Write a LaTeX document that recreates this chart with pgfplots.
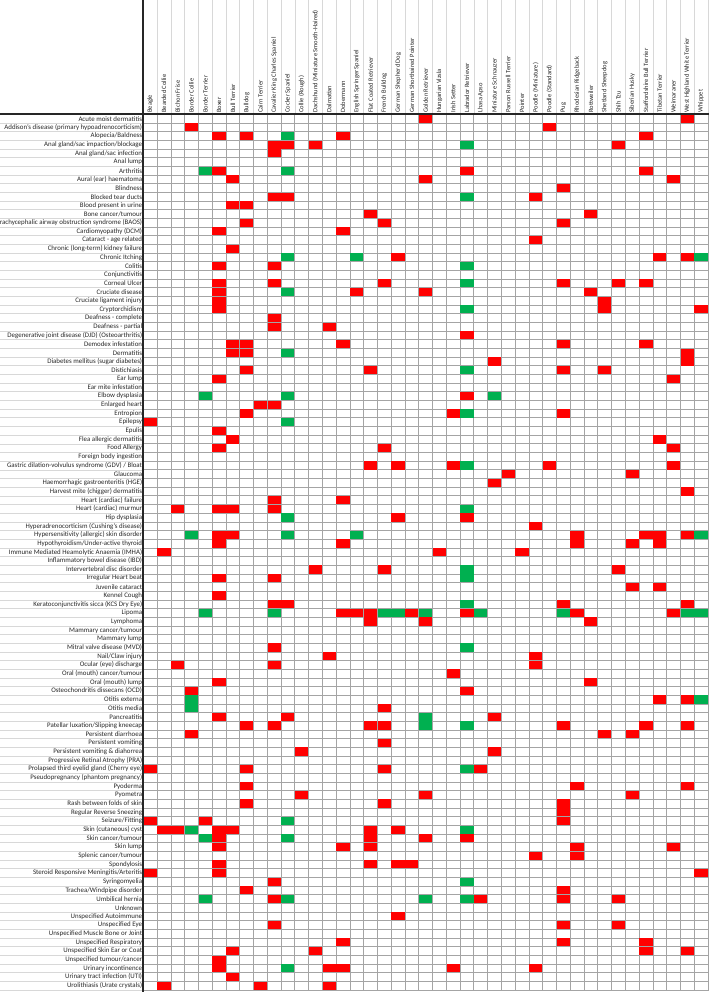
\documentclass[border=0pt]{standalone}
\usepackage{pgfplots}
\pgfplotsset{compat=1.18}
\usepackage{fontspec}
\setmainfont{Carlito}
\definecolor{cellred}{HTML}{FF0000}
\definecolor{cellgreen}{HTML}{00B050}
\definecolor{gridc}{HTML}{A4A4A4}
\definecolor{lightgridc}{HTML}{D8D8D8}
\pgfdeclareplotmark{cellmark}{\pgfpathrectanglecorners{\pgfqpoint{-6.6pt}{-4.1pt}}{\pgfqpoint{6.6pt}{4.1pt}}\pgfusepathqfill}
\begin{document}
\begin{tikzpicture}
\path[use as bounding box] (-143.3pt,-2pt) rectangle (565.7pt,990pt);
\clip (-143.3pt,-2pt) rectangle (565.7pt,990pt);
\foreach \i in {0,...,41} \draw[lightgridc,line width=0.5pt] (\i*13.7707pt,875.7pt) -- ++(0,114.3pt);
\foreach \j in {0,...,101} \draw[lightgridc,line width=0.5pt] (-143.3pt,\j*8.6703pt) -- (0pt,\j*8.6703pt);
\begin{axis}[
  scale only axis, width=564.6pt, height=875.7pt,
  at={(0,0)}, anchor=south west,
  xmin=-0.5, xmax=40.5, ymin=-0.5, ymax=100.5, y dir=reverse,
  axis line style={gridc, line width=0.6pt},
  xtick={0,...,40}, ytick={0,...,100},
  minor xtick={-0.5,0.5,...,40.5}, minor ytick={-0.5,0.5,...,100.5},
  major tick length=0pt, minor tick length=0pt,
  grid=minor, minor grid style={gridc, line width=0.6pt},
  xticklabel pos=upper,
  xticklabel style={rotate=90, anchor=west, font=\fontsize{6.5}{7}\selectfont, text=black!85, inner xsep=1.5pt, inner ysep=0pt},
  yticklabel style={anchor=east, font=\fontsize{6.9}{7}\selectfont, text=black!85, inner xsep=1pt, inner ysep=0pt},
  xticklabels={{Beagle},{Bearded Collie},{Bichon Frise},{Border Collie},{Border Terrier},{Boxer},{Bull Terrier},{Bulldog},{Cairn Terrier},{Cavalier King Charles Spaniel},{Cocker Spaniel},{Collie (Rough)},{Dachshund (Miniature Smooth-Haired)},{Dalmatian},{Dobermann},{English Springer Spaniel},{Flat Coated Retriever},{French Bulldog},{German Shepherd Dog},{German Shorthaired Pointer},{Golden Retriever},{Hungarian Vizsla},{Irish Setter},{Labrador Retriever},{Lhasa Apso},{Miniature Schnauzer},{Parson Russell Terrier},{Pointer},{Poodle (Miniature)},{Poodle (Standard)},{Pug},{Rhodesian Ridgeback},{Rottweiler},{Shetland Sheepdog},{Shih Tzu},{Siberian Husky},{Staffordshire Bull Terrier},{Tibetan Terrier},{Weimaraner},{West Highland White Terrier},{Whippet}},
  yticklabels={{Acute moist dermatitis},{Addison's disease (primary hypoadrenocorticism)},{Alopecia/Baldness},{Anal gland/sac impaction/blockage},{Anal gland/sac infection},{Anal lump},{Arthritis},{Aural (ear) haematoma},{Blindness},{Blocked tear ducts},{Blood present in urine},{Bone cancer/tumour},{Brachycephalic airway obstruction syndrome (BAOS)},{Cardiomyopathy (DCM)},{Cataract - age related},{Chronic (long-term) kidney failure},{Chronic Itching},{Colitis},{Conjunctivitis},{Corneal Ulcer},{Cruciate disease},{Cruciate ligament injury},{Cryptorchidism},{Deafness - complete},{Deafness - partial},{Degenerative joint disease (DJD) (Osteoarthritis)},{Demodex infestation},{Dermatitis},{Diabetes mellitus (sugar diabetes)},{Distichiasis},{Ear lump},{Ear mite infestation},{Elbow dysplasia},{Enlarged heart},{Entropion},{Epilepsy},{Epulis},{Flea allergic dermatitis},{Food Allergy},{Foreign body ingestion},{Gastric dilation-volvulus syndrome (GDV) / Bloat},{Glaucoma},{Haemorrhagic gastroenteritis (HGE)},{Harvest mite (chigger) dermatitis},{Heart (cardiac) failure},{Heart (cardiac) murmur},{Hip dysplasia},{Hyperadrenocorticism (Cushing's disease)},{Hypersensitivity (allergic) skin disorder},{Hypothyroidism/Under-active thyroid},{Immune Mediated Heamolytic Anaemia (IMHA)},{Inflammatory bowel disease (IBD)},{Intervertebral disc disorder},{Irregular Heart beat},{Juvenile cataract},{Kennel Cough},{Keratoconjunctivitis sicca (KCS Dry Eye)},{Lipoma},{Lymphoma},{Mammary cancer/tumour},{Mammary lump},{Mitral valve disease (MVD)},{Nail/Claw injury},{Ocular (eye) discharge},{Oral (mouth) cancer/tumour},{Oral (mouth) lump},{Osteochondritis dissecans (OCD)},{Otitis externa},{Otitis media},{Pancreatitis},{Patellar luxation/Slipping kneecap},{Persistent diarrhoea},{Persistent vomiting},{Persistent vomiting \& diahorrea},{Progressive Retinal Atrophy (PRA)},{Prolapsed third eyelid gland (Cherry eye)},{Pseudopregnancy (phantom pregnancy)},{Pyoderma},{Pyometra},{Rash between folds of skin},{Regular Reverse Sneezing},{Seizure/Fitting},{Skin (cutaneous) cyst},{Skin cancer/tumour},{Skin lump},{Splenic cancer/tumour},{Spondylosis},{Steroid Responsive Meningitis/Arteritis},{Syringomyelia},{Trachea/Windpipe disorder},{Umbilical hernia},{Unknown},{Unspecified Autoimmune},{Unspecified Eye},{Unspecified Muscle Bone or Joint},{Unspecified Respiratory},{Unspecified Skin Ear or Coat},{Unspecified tumour/cancer},{Urinary incontinence},{Urinary tract infection (UTI)},{Urolithiasis (Urate crystals)}},
  clip=false,
]
\addplot[only marks, mark=cellmark, color=cellred, mark options={fill=cellred, draw=none}] coordinates {
(20,0)(39,0)
(3,1)(29,1)
(5,2)(7,2)(14,2)(36,2)
(9,3)(10,3)(12,3)(34,3)
(9,4)
(5,6)(23,6)(36,6)
(6,7)(20,7)(38,7)
(30,8)
(9,9)(10,9)(28,9)
(6,10)(7,10)
(16,11)(32,11)
(7,12)(17,12)(30,12)
(5,13)(14,13)
(28,14)
(6,15)
(18,16)(37,16)(39,16)
(5,17)(9,17)
(5,19)(9,19)(17,19)(30,19)(34,19)(36,19)
(5,20)(15,20)(20,20)(32,20)
(5,21)(33,21)
(5,22)(33,22)(40,22)
(9,23)
(9,24)(13,24)
(23,25)
(6,26)(7,26)(14,26)(30,26)(36,26)
(6,27)(7,27)(39,27)
(25,28)(39,28)
(7,29)(16,29)(30,29)(33,29)
(5,30)(38,30)
(23,32)
(8,33)(9,33)
(7,34)(22,34)(30,34)
(0,35)
(5,36)
(6,37)(37,37)
(5,38)(17,38)(38,38)
(16,40)(18,40)(22,40)(29,40)(38,40)
(26,41)(35,41)
(25,42)
(39,43)
(9,44)(14,44)
(2,45)(5,45)(6,45)(9,45)
(18,46)(23,46)
(28,47)
(5,48)(6,48)(31,48)(36,48)(37,48)(39,48)
(5,49)(14,49)(31,49)(35,49)(37,49)
(1,50)(21,50)(27,50)
(12,52)(17,52)(34,52)
(5,53)(9,53)
(35,54)(37,54)
(5,55)
(9,56)(10,56)(30,56)(39,56)
(14,57)(15,57)(16,57)(19,57)(23,57)(31,57)(38,57)
(16,58)(20,58)(32,58)
(9,61)
(13,62)(28,62)
(2,63)(9,63)(28,63)
(22,64)
(5,65)(32,65)
(3,66)(23,66)
(37,67)(39,67)
(17,68)
(5,69)(10,69)(25,69)
(7,70)(9,70)(16,70)(17,70)(30,70)(36,70)(39,70)
(3,71)(33,71)(35,71)
(17,72)
(11,73)(25,73)
(0,75)(7,75)(17,75)(24,75)
(7,77)(31,77)(39,77)
(11,78)(20,78)(35,78)
(7,79)(17,79)(30,79)
(30,80)
(0,81)(4,81)(30,81)
(1,82)(2,82)(5,82)(6,82)(16,82)(18,82)
(5,83)(16,83)(20,83)(23,83)
(5,84)(14,84)(16,84)(31,84)(38,84)
(28,85)(31,85)
(5,86)(16,86)(18,86)(19,86)
(0,87)(5,87)(40,87)
(9,88)
(7,89)(30,89)
(9,90)(24,90)(30,90)(34,90)
(18,92)
(9,93)(30,93)(34,93)
(14,95)(30,95)(36,95)
(6,96)(12,96)(36,96)(39,96)
(5,97)
(5,98)(13,98)(14,98)(22,98)(28,98)
(6,99)
(1,100)(8,100)(13,100)
};
\addplot[only marks, mark=cellmark, color=cellgreen, mark options={fill=cellgreen, draw=none}] coordinates {
(10,2)(23,3)(4,6)(10,6)(23,9)(10,16)(15,16)(40,16)(23,17)(23,19)(10,20)(23,22)(10,27)(23,29)(4,32)(10,32)(25,32)(23,34)(10,35)(23,40)(23,45)(10,46)(3,48)(10,48)(15,48)(40,48)(23,52)(23,53)(23,56)(4,57)(9,57)(17,57)(18,57)(20,57)(24,57)(30,57)(39,57)(40,57)(23,61)(3,67)(40,67)(3,68)(20,69)(20,70)(23,70)(23,75)(10,81)(3,82)(23,82)(4,83)(10,83)(23,88)(4,90)(10,90)(20,90)(23,90)(10,98)
};
\end{axis}
\draw[black!85, line width=1.8pt] (0pt,-2pt) -- (0pt,990pt);
\draw[black!85, line width=1.8pt] (-143.3pt,875.7pt) -- (565.7pt,875.7pt);
\end{tikzpicture}
\end{document}
